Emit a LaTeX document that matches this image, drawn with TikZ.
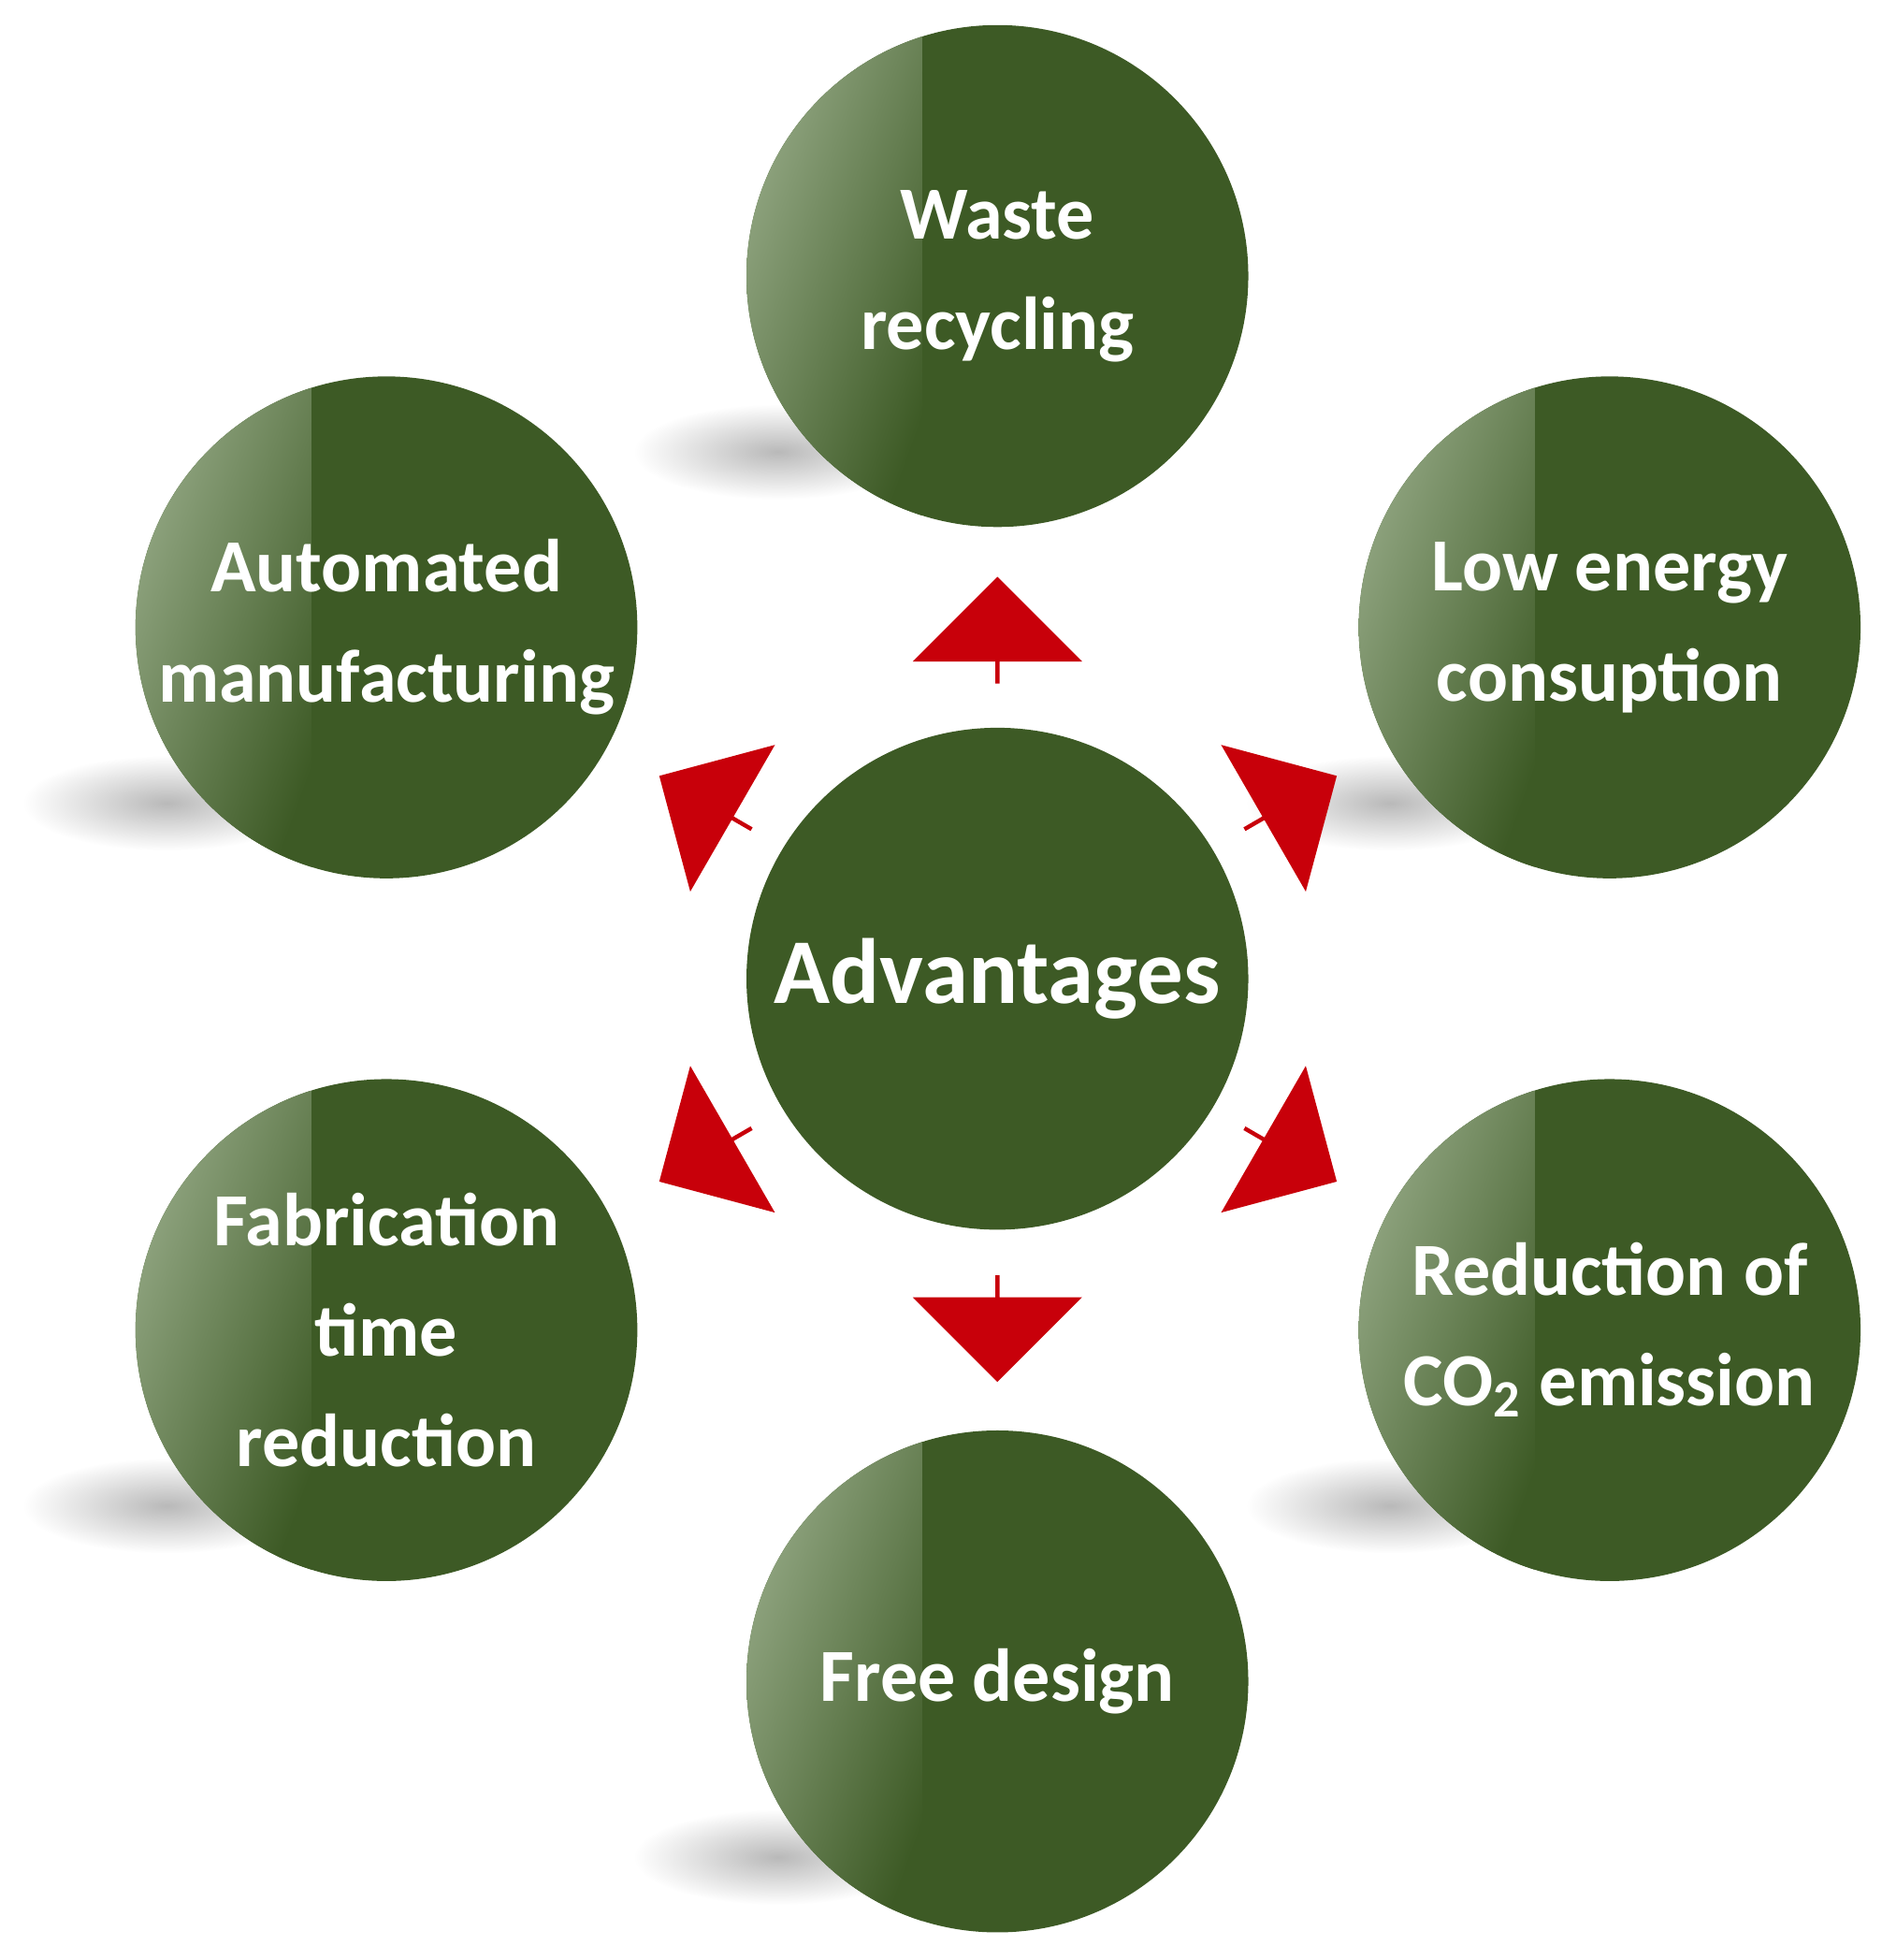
\documentclass[tikz,border=0pt]{standalone}
\usepackage{fontspec}
\setmainfont{Carlito}
\usetikzlibrary{shapes.arrows}
\definecolor{ballgreen}{RGB}{61,90,37}
\definecolor{ballhi}{RGB}{150,170,135}
\definecolor{arrowred}{RGB}{200,0,10}
\tikzset{
  ball/.style={circle,minimum size=4cm,inner sep=0pt,text=white,align=center,
    font=\bfseries\fontsize{17}{25}\selectfont},
  blockarrow/.style={single arrow,fill=arrowred,draw=none,minimum height=0.85cm,
    minimum width=1.35cm,single arrow head extend=0.28cm,inner sep=0pt},
}
\newcommand{\greenball}[4]{% name, x, y, text
  \shade[inner color=gray!55,outer color=white] (#2-1.75,#3-1.4) ellipse (1.15cm and 0.38cm);
  \fill[ballgreen] (#2,#3) circle (2cm);
  \begin{scope}
    \clip (#2,#3) circle (2cm);
    \shade[left color=ballhi,right color=ballgreen,shading angle=70] (#2-2,#3-2) rectangle (#2-0.6,#3+2);
  \end{scope}
  \node[ball] (#1) at (#2,#3) {#4};
}
\begin{document}
\begin{tikzpicture}
\useasboundingbox (0,0) rectangle (15,15.62);
% outer balls
\greenball{waste}{7.95}{13.42}{Waste\\recycling}
\greenball{auto}{3.08}{10.62}{Automated\\manufacturing}
\greenball{energy}{12.83}{10.62}{Low energy\\consuption}
\greenball{fabric}{3.08}{5.02}{Fabrication\\time\\reduction}
\greenball{co2}{12.83}{5.02}{Reduction of\\CO\textsubscript{2} emission}
\greenball{free}{7.95}{2.22}{Free design}
% centre
\fill[ballgreen] (7.95,7.82) circle (2cm);
\node[ball,font=\bfseries\fontsize{21}{25}\selectfont] (adv) at (7.95,7.82) {Advantages};
% arrows
\node[blockarrow,rotate=90]  (a1) at (7.95,10.59) {};
\node[blockarrow,rotate=150] (a2) at (5.63,9.22) {};
\node[blockarrow,rotate=30]  (a3) at (10.28,9.22) {};
\node[blockarrow,rotate=210] (a4) at (5.63,6.42) {};
\node[blockarrow,rotate=-30] (a5) at (10.28,6.42) {};
\node[blockarrow,rotate=-90] (a6) at (7.95,5.04) {};
\end{tikzpicture}
\end{document}
